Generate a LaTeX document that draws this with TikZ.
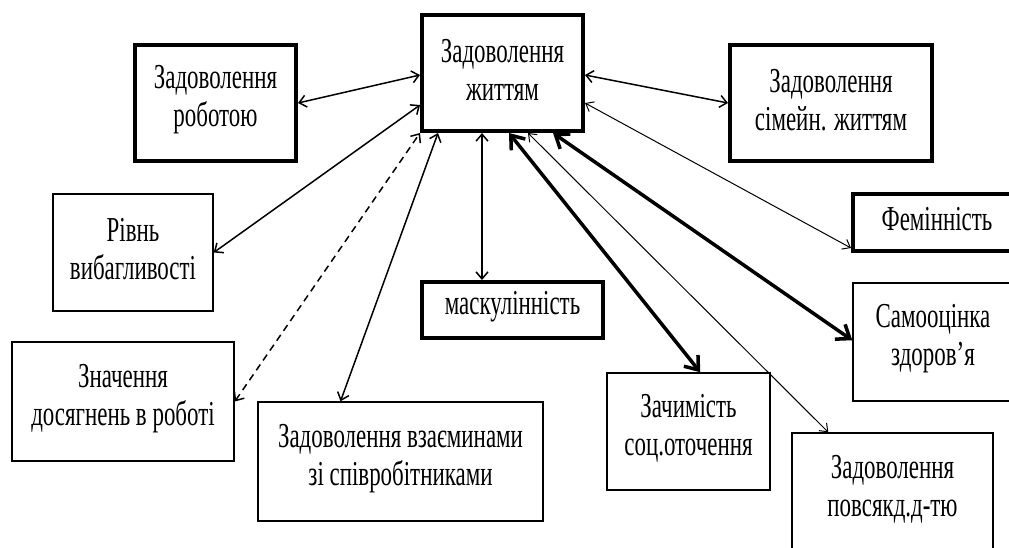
\documentclass[tikz,border=0pt]{standalone}
\usepackage{fontspec}
\setmainfont{Liberation Serif}[FakeStretch=0.655]
\usetikzlibrary{arrows.meta}
\begin{document}
\begin{tikzpicture}[x=1pt,y=1pt,
  lbl/.style={align=center, inner sep=0pt, font=\fontsize{35}{38}\selectfont, yshift=3pt},
  box/.style={draw, line width=1.5pt, inner sep=0pt, label={[lbl]center:#1}},
  boldbox/.style={box=#1, line width=4pt},
  lnk/.style={line width=1.5pt, {Straight Barb[length=7pt,width=12pt]}-{Straight Barb[length=7pt,width=12pt]}},
  thinlnk/.style={line width=1pt, {Straight Barb[length=7pt,width=11pt]}-{Straight Barb[length=7pt,width=11pt]}},
  boldlnk/.style={line width=3.5pt, {Straight Barb[length=12pt,width=18pt]}-{Straight Barb[length=12pt,width=18pt]}},
  dlnk/.style={lnk, dash pattern=on 7pt off 5pt}
]
\useasboundingbox (0,0) rectangle (1009,-547);
\clip (0,0) rectangle (1009,-547);
\fill[white] (0,0) rectangle (1009,-547);

\node[boldbox={Задоволення\\життям}, minimum width=161pt, minimum height=116pt] (c) at (502.5,-73) {};
\node[boldbox={Задоволення\\роботою}, minimum width=161pt, minimum height=116pt] (rob) at (215.5,-103) {};
\node[boldbox={Задоволення\\сімейн. життям}, minimum width=202pt, minimum height=116pt] (sim) at (831,-103) {};
\node[box={Рівнь\\вибагливості}, minimum width=160pt, minimum height=117pt] (riv) at (133,-252.5) {};
\node[boldbox={Фемінність}, minimum width=168pt, minimum height=57pt] (fem) at (937,-222.5) {};
\node[boldbox={маскулінність}, minimum width=181pt, minimum height=56pt] (mas) at (512.5,-310) {};
\node[box={Значення\\досягнень в роботі}, minimum width=222pt, minimum height=119pt] (zna) at (123,-401.5) {};
\node[box={Задоволення взаєминами\\зі співробітниками}, minimum width=285pt, minimum height=119pt] (vza) at (400.5,-461.5) {};
\node[box={Зачимість\\соц.оточення}, minimum width=163pt, minimum height=117pt] (zach) at (688.5,-431.5) {};
\node[box={Самооцінка\\здоров’я}, minimum width=160pt, minimum height=118pt] (sam) at (933,-342) {};
\node[box={Задоволення\\повсякд.д-тю}, minimum width=201pt, minimum height=118pt] (pov) at (892.5,-492) {};

\draw[lnk] (rob.east) -- ([yshift=-62pt]c.north west);
\draw[lnk] (riv.east) -- ([yshift=-92pt]c.north west);
\draw[dlnk] (zna.east) -- (c.south west);
\draw[lnk] ([xshift=-60pt]vza.north) -- ([xshift=18pt]c.south west);
\draw[lnk] ([xshift=62pt]mas.north west) -- ([xshift=62pt]c.south west);
\draw[boldlnk] ([xshift=94pt]zach.north west) -- ([xshift=89pt]c.south west);
\draw[thinlnk] ([xshift=37pt]pov.north west) -- ([xshift=108pt]c.south west);
\draw[boldlnk] ([yshift=-58pt]sam.north west) -- ([xshift=133pt]c.south west);
\draw[thinlnk] ([yshift=5pt]fem.south west) -- ([yshift=-90pt]c.north east);
\draw[lnk] (sim.west) -- ([yshift=-62pt]c.north east);
\end{tikzpicture}
\end{document}
